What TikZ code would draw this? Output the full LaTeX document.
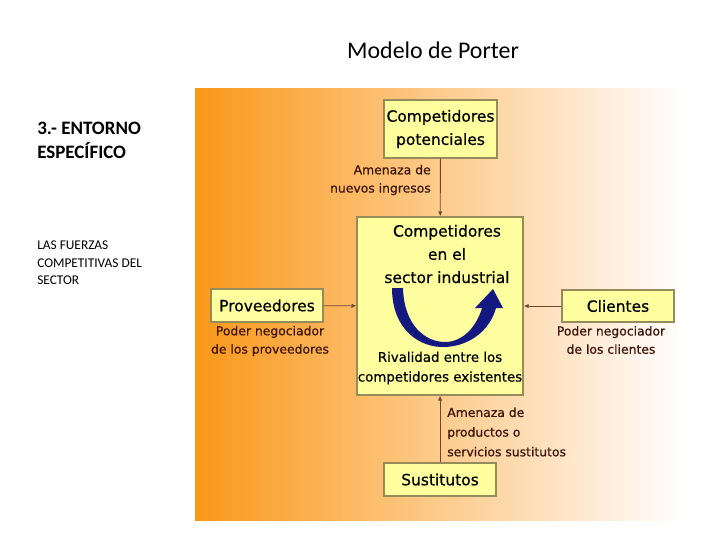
\documentclass[tikz,border=0pt]{standalone}
\usepackage{fontspec}
\setmainfont{Carlito}
\newfontfamily\comicfont[FakeBold=0.6]{DejaVu Sans}
\usetikzlibrary{positioning, arrows.meta}
\definecolor{bgOrange}{RGB}{250,152,25}
\definecolor{bgSalmon}{RGB}{249,206,188}
\definecolor{bgWhite}{RGB}{255,253,253}
\definecolor{boxYellow}{RGB}{255,255,160}
\definecolor{boxEdge}{RGB}{150,140,90}
\definecolor{arrowNavy}{RGB}{20,25,130}
\definecolor{lineBrown}{RGB}{110,70,50}
\definecolor{labelBrown}{RGB}{60,20,10}

\begin{document}
\begin{tikzpicture}[x=0.025cm, y=-0.025cm,
    force/.style={draw=boxEdge, fill=boxYellow, line width=0.8pt, inner sep=0pt, align=center,
        font=\comicfont\fontsize{11}{16.5}\selectfont},
    threat/.style={text=labelBrown, inner sep=0pt, font=\comicfont\fontsize{8.8}{13}\selectfont},
    link/.style={lineBrown, line width=0.6pt, -{Latex[length=3.5pt,width=3pt]}}]
    \useasboundingbox (0,0) rectangle (720,540);
    % slide texts
    \node (title) at (433,50) {\fontsize{17}{20}\selectfont Modelo de Porter};
    \node[anchor=west, align=left, inner sep=0pt, font=\bfseries\fontsize{13.5}{17}\selectfont] (heading) at (37,140) {3.- ENTORNO\\ESPECÍFICO};
    \node[anchor=west, align=left, inner sep=0pt, font=\fontsize{9.5}{12.5}\selectfont] (subtitle) at (37,263) {LAS FUERZAS\\COMPETITIVAS DEL\\SECTOR};
    % panel
    \shade[left color=bgOrange, middle color=bgSalmon, right color=bgWhite] (195,88) rectangle (678,520);
    % the five forces
    \node[force, minimum width=2.825cm, minimum height=1.45cm] (entrants) at (440.5,129) {Competidores\\potenciales};
    \node[force, minimum width=4.15cm, minimum height=4.45cm] (industry) at (440,306) {};
    \node[force, minimum width=2.8cm, minimum height=0.825cm] (suppliers) at (267,305.5) {Proveedores};
    \node[force, minimum width=2.8cm, minimum height=0.8cm] (buyers) at (618,306) {Clientes};
    \node[force, minimum width=2.8cm, minimum height=0.825cm] (substitutes) at (440,479.5) {Sustitutos};
    \node[align=center, inner sep=0pt, font=\comicfont\fontsize{11}{16.5}\selectfont] (industrytext) at (447,254) {Competidores\\en el\\sector industrial};
    \node[align=center, inner sep=0pt, font=\comicfont\fontsize{9.5}{14}\selectfont] (rivalry) at (440,368) {Rivalidad entre los\\competidores existentes};
    % rivalry arrow
    \fill[arrowNavy] (392,288) .. controls (392,330) and (420,348) .. (445,347)
        .. controls (470,346) and (490,330) .. (496,308) -- (503,308) -- (493,289) -- (475,308) -- (482,308)
        .. controls (476,328) and (462,342) .. (445,342)
        .. controls (425,342) and (404,325) .. (403,288) -- cycle;
    % connectors
    \draw[link] (entrants) -- (industry);
    \draw[link] (substitutes) -- (industry);
    \draw[link] (suppliers) -- (industry);
    \draw[link] (buyers) -- (industry);
    % threats
    \node[threat, anchor=east, align=right] (newentry) at (431,180) {Amenaza de\\nuevos ingresos};
    \node[threat, align=center] (supplierpower) at (270,341) {Poder negociador\\de los proveedores};
    \node[threat, align=center] (buyerpower) at (611,340) {Poder negociador\\de los clientes};
    \node[threat, anchor=west, align=left, font=\comicfont\fontsize{8.8}{14}\selectfont] (substitution) at (447,432) {Amenaza de\\productos o\\servicios sustitutos};
\end{tikzpicture}
\end{document}
